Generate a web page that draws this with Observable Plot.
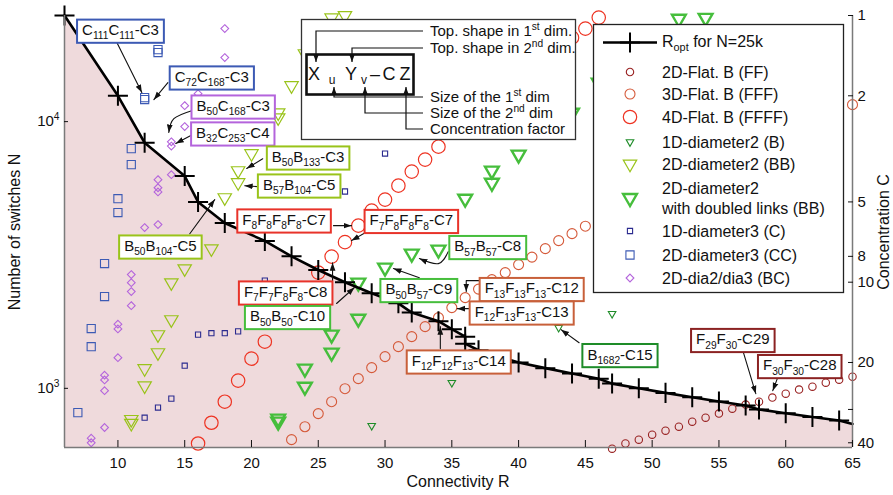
<!DOCTYPE html>
<html><head><meta charset="utf-8">
<script src="https://cdn.jsdelivr.net/npm/d3@7"></script>
<script src="https://cdn.jsdelivr.net/npm/@observablehq/plot@0.6"></script>
<style>
html,body{margin:0;padding:0;background:#fff;}
#chart svg{display:block;}
</style></head><body><div id="chart"></div>
<script>
// ---------------- DATA ----------------
const N_REF = 25000; // N = 25000 / C
// Ropt curve (connectivity R, concentration C)
const roptR = [6,10,12,15,16,18,21,23,25,27,29,31,32,34,35,36,36,37,40,42,44,46,47,49,51,53,55,57,58,60,62,64,65];
const roptC = [1,2,3,4,5,6,7,8,9,10,11,12,13,14,15,16,17,18,20,21,22,23,24,25,26,27,28,29,30,31,32,33,34];

// [R, N] pairs per series
const flat2 = [[47,594],[48,621],[49,642],[50,670],[51,694],[52,718],[53,750],[54,776],[55,804],[56,839],[57,869],[58,891],[59,923],[60,955],[61,989],[62,1014],[63,1050],[64,1078],[65,1106]];
const flat3 = [[23,642],[24,718],[25,804],[26,891],[27,997],[28,1087],[29,1196],[30,1315],[31,1433],[32,1563],[33,1703],[34,1841],[35,2008],[36,2188],[37,2355],[38,2557],[39,2716],[40,2910],[41,3105],[42,3340],[43,3580],[44,3802],[45,4055],[65,11580]];
const flat4 = [[16,621],[17,743],[18,891],[19,1069],[20,1292],[21,1496],[25,2716],[26,3119],[27,3533],[28,4074],[29,4637],[30,5100],[31,5754],[32,6497],[33,7205],[34,8054],[44,20650],[45,22330],[46,24550]];
const dia2_1D = [[29,724],[35,1050],[43,1690],[47,1905]];
const dia2_2D = [[11,740],[11,765],[12,1023],[12,1186],[13,1361],[13,1590],[14,1810],[14,2490],[15,2810],[17,3340],[18,5190],[19,5910],[19,6550],[20,7590],[22,10350],[22,10800],[23,13650],[24,17990],[26,24500],[27,25000]];
const dia2_2Dd = [[22,750],[22,770],[24,1014],[24,1186],[26,1361],[26,1590],[28,1824],[28,2490],[30,2836],[32,3200],[34,3311],[36,5140],[38,5900],[38,6550],[40,7520],[44,10800],[46,14000],[52,24300],[54,24500]];
const dia3_1D = [[12,776],[13,847],[14,915],[15,1216],[16,1590],[17,1610],[18,1610],[19,1635],[21,2535],[27,5470],[30,7590]];
const dia3_2D = [[7,811],[8,1433],[8,1675],[9,2208],[9,2936],[10,4560],[10,5140],[11,6900],[11,7920],[12,12100],[12,12300],[13,18150],[13,18620]];
const dia23 = [[8,625],[8,650],[9,713],[9,980],[9,1075],[9,1120],[10,1303],[10,1670],[10,1740],[11,2042],[11,2305],[11,2490],[11,2670],[12,4007],[13,4110],[13,5450],[13,5650],[13,6060],[14,6325],[14,8100],[14,8400],[15,9580],[15,11480],[16,12730],[18,17380],[18,22330]];

// tick labels
const xTicks = [10,15,20,25,30,35,40,45,50,55,60,65];
const nTicks = [1000,10000];
const cTicks = [1,2,5,8,10,20,30,40];

// annotations (anchor in data units)
const labelText = ["C_{111}C_{111}-C3","C_{72}C_{168}-C3","B_{50}C_{168}-C3","B_{32}C_{253}-C4","B_{50}B_{133}-C3","B_{57}B_{104}-C5","B_{50}B_{104}-C5","F_{8}F_{8}F_{8}F_{8}-C7","F_{7}F_{8}F_{8}F_{8}-C7","F_{7}F_{7}F_{8}F_{8}-C8","B_{50}B_{50}-C10","B_{50}B_{57}-C9","B_{57}B_{57}-C8","F_{13}F_{13}F_{13}-C12","F_{12}F_{13}F_{13}-C13","F_{12}F_{12}F_{13}-C14","B_{1682}-C15","F_{29}F_{30}-C29","F_{30}F_{30}-C28"];
const labelR = [10.19,17.03,18.63,18.6,24.24,23.57,13.18,22.44,31.97,22.56,22.7,32.53,37.69,40.98,40.23,35.52,47.59,56.04,61.05];
const labelN = [22000,14690,11430,9060,7360,5780,3413,4274,4256,2295,1857,2344,3398,2365,1931,1265,1337,1523,1216];
const labelColor = ["#3c5ab4","#3c5ab4","#b464dc","#b464dc","#99c31a","#99c31a","#99c31a","#e8332a","#e8332a","#e8332a","#46be3c","#46be3c","#46be3c","#c8603a","#c8603a","#c8603a","#1e8c28","#8b2222","#8b2222"];
const arrowsStraight = [
  [[9.93,19770],[11.79,12850]],
  [[13.74,14000],[12.69,12090]],
  [[15.46,8870],[14.33,8280]],
  [[20.84,7260],[19.64,6670]],
  [[20.54,5700],[19.49,5750]],
  [[15.38,3800],[17.25,5100]],
  [[26.14,4074],[27.49,4074]],
  [[28.54,3837],[27.49,3580]],
  [[26.07,2535],[26.07,2958]],
  [[26.37,2080],[27.71,2388]],
  [[32.57,2600],[30.63,2812]],
  [[37.13,2535],[36.08,2535],[36.08,2305]],
  [[36.61,1990],[35.41,1990]],
  [[34.14,1409],[34.14,1703]],
  [[44.53,1483],[43.18,1660]],
  [[56.79,1384],[57.76,955]],
  [[59.4,1097],[59.03,980]]
];
const arrowsCurved = [
  [[15.53,10990],[14.19,10260],[13.81,9100]],
  [[34.73,3255],[33.99,2935],[32.57,3065]]
];

// ---------------- CHART ----------------
const FONT = '"Liberation Sans", Arial, Helvetica, sans-serif';
const yMin = 600, yMax = 25000;
const toObj = a => a.map(([R, N]) => ({R, N}));
const ropt = roptR.map((R, i) => ({R, N: N_REF / roptC[i]}));
const labels = labelText.map((t, i) => ({t, R: labelR[i], N: labelN[i]}));
const flatArrows = (arr, pre) => arr.flatMap((pts, k) => pts.map(([R, N]) => ({id: pre + k, R, N})));

const S = [
  {name: "2D-Flat. B (FF)", data: flat2, symbol: "circle", r: 3.7, stroke: "#992222", sw: 1.1, ly: 72},
  {name: "3D-Flat. B (FFF)", data: flat3, symbol: "circle", r: 5, stroke: "#d55a3a", sw: 1.1, ly: 94},
  {name: "4D-Flat. B (FFFF)", data: flat4, symbol: "circle", r: 6.7, stroke: "#ee3322", sw: 1.2, ly: 117},
  {name: "1D-diameter2 (B)", data: dia2_1D, symbol: "triangle2", r: 3.6, stroke: "#1e8c28", sw: 1.1, rot: 180, ly: 142},
  {name: "2D-diameter2 (BB)", data: dia2_2D, symbol: "triangle2", r: 6.4, stroke: "#99c31a", sw: 1.2, rot: 180, ly: 164},
  {name: ["2D-diameter2", "with doubled links (BB)"], data: dia2_2Dd, symbol: "triangle2", r: 6.6, stroke: "#46be3c", sw: 2.4, rot: 180, ly: 198},
  {name: "1D-diameter3 (C)", data: dia3_1D, symbol: "square2", r: 3.3, stroke: "#2b2b8f", sw: 1.1, ly: 231},
  {name: "2D-diameter3 (CC)", data: dia3_2D, symbol: "square2", r: 5.2, stroke: "#3c5ab4", sw: 1.1, ly: 255},
  {name: "2D-dia2/dia3 (BC)", data: dia23, symbol: "diamond2", r: 3.5, stroke: "#b464dc", sw: 1.1, ly: 278}
];
const PLUS_R = 6.5;

const chart = Plot.plot({
  width: 893, height: 495,
  marginLeft: 64, marginRight: 41, marginTop: 15, marginBottom: 48,
  style: {fontFamily: FONT, fontSize: "15px", color: "#111", background: "white", overflow: "visible"},
  x: {domain: [6, 65]},
  y: {type: "log", domain: [yMin, yMax]},
  marks: [
    Plot.areaY(ropt, {x: "R", y1: () => yMin, y2: "N", fill: "#efdadc"}),
    ...S.map(s => Plot.dot(toObj(s.data), {x: "R", y: "N", symbol: s.symbol, r: s.r, stroke: s.stroke, strokeWidth: s.sw, fill: "none", rotate: s.rot || 0})),
    Plot.line(ropt, {x: "R", y: "N", stroke: "#000", strokeWidth: 2.6}),
    Plot.dot(ropt.filter(d => d.R < 65), {x: "R", y: "N", symbol: "plus", r: PLUS_R, stroke: "#000", strokeWidth: 2, fill: "none"}),
    Plot.ruleX([6], {stroke: "#7a7a7a", strokeWidth: 1.5}),
    Plot.ruleX([65], {stroke: "#7a7a7a", strokeWidth: 1.5}),
    Plot.ruleY([yMin], {stroke: "#7a7a7a", strokeWidth: 1.5}),
    Plot.line(flatArrows(arrowsStraight, "s"), {x: "R", y: "N", z: "id", stroke: "#111", strokeWidth: 1.1, ariaDescription: "annot-arrows"}),
    Plot.line(flatArrows(arrowsCurved, "c"), {x: "R", y: "N", z: "id", stroke: "#111", strokeWidth: 1.1, curve: "natural", ariaDescription: "annot-arrows"}),
    Plot.text(labels, {x: "R", y: "N", text: "t", fontSize: 15, fill: "#111", ariaDescription: "annot-labels"}),
    Plot.axisX({ticks: xTicks, tickSize: -7, tickPadding: 17, label: null, fontSize: 15}),
    Plot.axisY({anchor: "left", ticks: nTicks, tickFormat: d => "10^{" + Math.round(Math.log10(d)) + "}", tickSize: -4, tickPadding: 9, label: null, fontSize: 15}),
    Plot.axisY({anchor: "right", ticks: cTicks.map(c => N_REF / c), tickFormat: d => String(Math.round(N_REF / d)), tickSize: -5, tickPadding: 10, label: null, fontSize: 15})
  ]
});
document.getElementById("chart").appendChild(chart);
const svgEl = chart.tagName.toLowerCase() === "svg" ? chart : chart.querySelector("svg");
const svg = d3.select(svgEl);
const NS = "http://www.w3.org/2000/svg";

function richify(el) {
  const s = el.textContent;
  if (!/[_^]\{/.test(s)) return;
  const fs = parseFloat(window.getComputedStyle(el).fontSize) || 15;
  while (el.firstChild) el.removeChild(el.firstChild);
  const re = /([_^])\{([^}]*)\}|([^_^]+)|([_^])/g;
  let m, cur = 0;
  while ((m = re.exec(s)) !== null) {
    const t = document.createElementNS(NS, "tspan");
    let target = 0, txt;
    if (m[1]) {
      target = m[1] === "_" ? 0.28 * fs : -0.42 * fs;
      t.setAttribute("font-size", (0.68 * fs).toFixed(1));
      txt = m[2];
    } else txt = m[3] || m[4];
    const dy = target - cur;
    if (dy) t.setAttribute("dy", dy.toFixed(2));
    cur = target;
    t.textContent = txt;
    el.appendChild(t);
  }
}
function findGroup(desc) {
  return Array.from(svgEl.querySelectorAll("g")).filter(g => g.getAttribute("aria-description") === desc);
}

// arrowhead marker
const defs = svg.append("defs");
defs.append("marker").attr("id", "ahead").attr("viewBox", "0 -5 10 10").attr("refX", 10).attr("refY", 0)
  .attr("markerWidth", 8).attr("markerHeight", 8).attr("markerUnits", "userSpaceOnUse").attr("orient", "auto")
  .append("path").attr("d", "M0,-3.6L10,0L0,3.6Z").attr("fill", "#111");
findGroup("annot-arrows").forEach(g => g.querySelectorAll("path").forEach(p => p.setAttribute("marker-end", "url(#ahead)")));

// rich text
svgEl.querySelectorAll("text").forEach(richify);

// label boxes
findGroup("annot-labels").forEach(g => {
  Array.from(g.querySelectorAll("text")).forEach((el, i) => {
    const bb = el.getBBox();
    const r = document.createElementNS(NS, "rect");
    r.setAttribute("x", bb.x - 5); r.setAttribute("y", bb.y - 1.5);
    r.setAttribute("width", bb.width + 10); r.setAttribute("height", bb.height + 3);
    r.setAttribute("fill", "white"); r.setAttribute("stroke", labelColor[i]); r.setAttribute("stroke-width", 2);
    const tf = el.getAttribute("transform"); if (tf) r.setAttribute("transform", tf);
    el.parentNode.insertBefore(r, el);
  });
});

// axis titles
const T = svg.append("g").attr("font-family", FONT).attr("font-size", 16).attr("fill", "#111").attr("text-anchor", "middle");
T.append("text").attr("transform", "translate(20,232) rotate(-90)").text("Number of switches N");
T.append("text").attr("transform", "translate(889,232) rotate(-90)").text("Concentration C");
T.append("text").attr("x", 458).attr("y", 487).text("Connectivity R");

// inner naming legend
const G1 = svg.append("g").attr("font-family", FONT).attr("fill", "#111").attr("text-anchor", "start");
G1.append("rect").attr("x", 301.5).attr("y", 19.5).attr("width", 274).attr("height", 120).attr("fill", "white").attr("stroke", "#333").attr("stroke-width", 1.3);
G1.append("rect").attr("x", 306.5).attr("y", 54.5).attr("width", 107).attr("height", 40).attr("fill", "none").attr("stroke", "#111").attr("stroke-width", 2.6);
[["X",314,80,18],["u",332,84,12],["Y",351,80,18],["v",364,84,12],["\u2013",375,80,18],["C",389,80,18],["Z",405,80,18]]
  .forEach(([t, x, y, fs]) => G1.append("text").attr("x", x).attr("y", y).attr("text-anchor", "middle").attr("font-size", fs).text(t));
["M423,31H316V62", "M423,48H352V62", "M423,97H334V87", "M423,113H365V87", "M423,129H406V87"]
  .forEach(d => G1.append("path").attr("d", d).attr("fill", "none").attr("stroke", "#111").attr("stroke-width", 1.2).attr("marker-end", "url(#ahead)"));
[["Top. shape in 1^{st} dim.",31],["Top. shape in 2^{nd} dim.",48],["Size of the 1^{st} dim",97],["Size of the 2^{nd} dim",113],["Concentration factor",129]]
  .forEach(([t, y]) => { const e = G1.append("text").attr("x", 430).attr("y", y).attr("dy", "0.35em").attr("font-size", 15).text(t); richify(e.node()); });

// series legend
const symMap = {circle: d3.symbolCircle, triangle2: d3.symbolTriangle2, square2: d3.symbolSquare2, diamond2: d3.symbolDiamond2};
const G2 = svg.append("g").attr("font-family", FONT).attr("font-size", 16).attr("fill", "#111").attr("text-anchor", "start");
G2.append("rect").attr("x", 593.5).attr("y", 24.5).attr("width", 250).attr("height", 268).attr("fill", "white").attr("stroke", "#222").attr("stroke-width", 1.3);
G2.append("line").attr("x1", 603).attr("x2", 657).attr("y1", 42.5).attr("y2", 42.5).attr("stroke", "#000").attr("stroke-width", 2.6);
G2.append("path").attr("d", d3.symbol(d3.symbolPlus, Math.PI * PLUS_R * PLUS_R)()).attr("transform", "translate(630,42.5)").attr("stroke", "#000").attr("stroke-width", 2).attr("fill", "none");
{ const e = G2.append("text").attr("x", 662).attr("y", 41).attr("dy", "0.35em").text("R_{opt} for N=25k"); richify(e.node()); }
S.forEach(s => {
  G2.append("path").attr("d", d3.symbol(symMap[s.symbol], Math.PI * s.r * s.r)())
    .attr("transform", `translate(630,${s.ly}) rotate(${s.rot || 0})`)
    .attr("fill", "none").attr("stroke", s.stroke).attr("stroke-width", s.sw);
  if (Array.isArray(s.name)) {
    G2.append("text").attr("x", 662).attr("y", s.ly - 10).attr("dy", "0.35em").text(s.name[0]);
    G2.append("text").attr("x", 662).attr("y", s.ly + 10).attr("dy", "0.35em").text(s.name[1]);
  } else {
    G2.append("text").attr("x", 662).attr("y", s.ly).attr("dy", "0.35em").text(s.name);
  }
});
</script></body></html>
